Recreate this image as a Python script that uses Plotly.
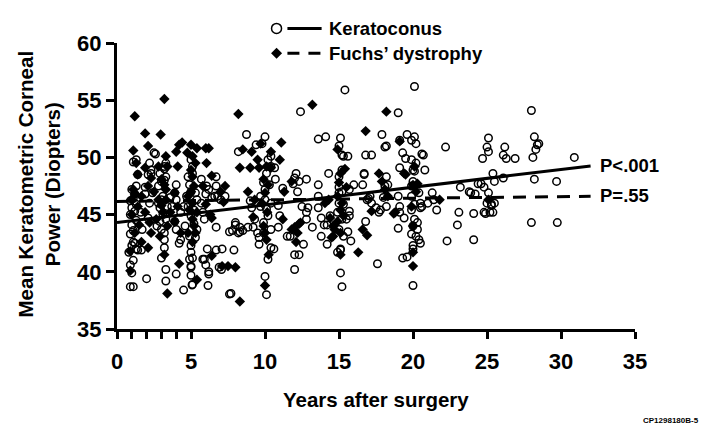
import plotly.graph_objects as go

# ---------------- data ----------------
kc_years = [
 0.9,1.1,1.0,0.9,1.1,0.8,1.3,1.0,1.2,0.9,1.1,1.0,1.3,0.9,1.2,1.0,1.3,0.9,1.1,1.2,1.0,1.3,1.4,1.1,1.3,1.4,1.65,1.1,
 2.0,1.9,2.3,2.6,2.2,1.7,2.1,1.6,1.9,2.4,2.2,2.1,2.3,2.5,
 3.0,3.3,3.3,3.2,3.2,3.3,2.9,2.8,3.0,3.2,3.3,2.9,3.4,3.1,2.8,2.7,3.2,3.2,3.3,3.2,3.0,3.1,2.9,3.0,
 4.0,4.3,4.0,3.9,4.0,3.9,4.0,3.7,4.5,4.3,3.6,4.2,
 4.9,5.1,5.0,5.1,5.3,4.8,5.0,4.6,4.9,5.3,5.0,5.1,5.0,5.1,4.5,5.4,5.4,5.07,5.0,5.0,4.9,5.0,4.7,5.2,5.0,4.8,5.2,
 6.2,6.15,6.1,5.9,5.8,5.7,6.0,6.2,6.4,6.05,5.7,5.9,6.2,6.0,5.8,
 6.7,6.7,6.6,6.8,7.0,7.3,6.7,7.1,6.9,6.7,7.06,7.6,7.6,
 7.7,7.9,7.8,8.0,8.2,8.3,8.2,8.5,8.0,8.3,
 8.75,8.85,9.2,9.3,9.5,9.4,9.1,9.0,
 10.0,9.8,9.6,9.6,10.0,10.1,10.2,10.4,10.4,10.2,10.4,9.9,10.0,10.1,10.2,9.9,10.4,9.7,9.7,10.1,10.4,9.9,10.0,10.3,
 10.65,10.7,10.6,10.9,10.9,11.0,11.2,11.5,
 11.7,12.0,12.3,12.0,12.1,12.3,12.2,12.4,12.5,11.9,12.0,
 12.6,12.8,12.8,12.9,13.2,12.8,13.6,
 13.6,14.1,13.6,13.6,13.8,13.8,14.2,14.0,14.2,14.3,14.4,
 15.1,15.0,15.2,15.0,15.2,15.0,14.9,15.2,15.0,15.3,15.1,15.1,15.2,15.4,15.3,15.3,15.0,14.9,15.1,15.2,15.0,
 15.7,15.7,15.8,15.6,15.7,16.0,15.5,15.6,
 16.6,16.8,17.2,16.7,16.8,16.9,17.1,17.2,17.0,16.7,
 17.6,17.9,17.7,17.5,18.2,18.2,18.0,18.1,18.3,18.2,17.8,18.1,
 19.0,19.1,19.3,19.0,19.1,19.0,19.1,19.4,19.5,19.1,19.3,
 20.1,19.6,19.9,20.1,20.2,19.9,20.2,20.1,20.0,19.9,19.9,20.1,19.9,20.1,20.0,19.9,20.0,19.6,20.0,20.3,20.4,20.3,20.5,20.4,20.0,20.2,20.0,
 20.6,20.7,20.8,20.5,21.0,21.4,21.3,20.5,20.6,
 21.6,22.2,22.3,
 23.1,23.0,23.2,24.1,23.8,24.1,24.2,23.9,
 24.7,24.8,24.6,25.1,25.0,25.1,24.8,25.2,25.1,25.0,24.4,25.3,24.9,
 25.4,25.5,25.5,25.4,26.2,26.1,26.3,26.1,26.9,25.3,
 28.0,28.2,28.4,28.3,28.5,28.1,28.2,28.0,29.7,29.75,30.9,
]
kc_power = [
 38.7,38.7,39.9,40.6,41.0,41.7,42.0,42.3,42.5,43.3,43.6,44.1,44.5,45.0,45.3,45.6,45.9,46.2,46.4,46.8,47.2,47.5,48.5,49.6,49.8,41.9,41.9,42.6,
 39.4,47.4,48.6,50.3,46.0,43.7,44.7,45.2,46.8,46.9,49.5,48.5,48.9,50.4,
 41.2,39.2,40.2,42.1,43.4,44.6,45.6,47.5,47.9,49.2,49.5,48.6,45.7,46.6,46.0,44.0,42.8,49.0,48.3,48.0,46.3,45.0,44.4,43.7,
 39.8,42.8,43.7,44.4,46.3,46.9,47.6,45.7,38.4,45.2,46.5,42.5,
 47.6,49.2,49.8,48.6,46.9,45.7,44.9,44.0,43.1,43.0,42.3,41.2,40.5,38.9,45.7,46.3,43.7,38.85,39.7,40.4,41.1,41.7,46.6,45.4,47.0,48.3,44.2,
 40.0,38.8,42.0,41.1,45.2,46.0,46.8,47.2,46.5,47.5,48.1,44.6,39.8,40.6,41.1,
 48.3,47.5,46.6,46.6,46.3,46.6,43.9,42.0,40.4,41.9,40.2,38.05,43.5,
 38.1,41.9,43.6,44.3,43.4,43.9,50.5,43.6,44.1,43.5,
 52.0,43.9,43.9,44.6,43.4,51.1,45.6,46.2,
 51.8,51.2,43.0,42.4,39.6,38.0,41.1,42.1,43.7,49.8,50.1,47.8,46.3,45.5,44.9,44.3,46.0,45.7,46.6,48.6,49.2,43.4,47.2,47.6,
 49.1,48.1,42.0,43.9,45.8,44.9,47.3,43.1,
 43.1,41.5,41.5,40.2,48.6,47.9,47.0,54.0,45.7,47.7,48.2,
 42.4,45.2,44.6,45.6,43.9,48.1,47.6,
 51.6,51.8,46.6,45.6,44.7,43.1,42.4,44.1,44.1,48.6,44.9,
 51.7,51.0,50.2,48.3,47.0,46.0,45.2,44.6,43.7,43.1,42.0,39.9,38.7,55.9,50.1,45.9,46.9,41.7,41.9,48.9,47.4,
 45.3,44.9,42.7,43.5,47.2,47.6,44.6,50.1,
 47.6,50.2,50.2,48.6,44.4,46.3,46.6,46.0,46.4,48.5,
 40.7,52.0,45.2,45.6,45.7,48.3,46.5,47.5,47.6,51.0,45.4,50.9,
 53.9,51.5,50.4,46.6,45.7,43.8,45.2,44.7,49.9,49.1,41.2,
 56.2,52.0,51.5,51.8,51.2,49.8,49.5,48.8,47.9,47.5,46.6,45.9,45.4,44.6,44.0,43.3,42.3,41.3,38.8,43.7,42.8,44.3,45.6,46.9,42.0,43.1,48.9,
 45.7,50.2,48.9,42.5,46.0,46.3,46.9,46.0,50.3,
 45.4,50.9,42.7,
 45.2,44.1,47.4,42.8,47.0,45.1,46.8,46.9,
 49.9,47.4,47.7,51.7,50.9,50.5,45.2,45.2,46.9,46.0,47.7,45.9,45.1,
 48.6,47.9,46.0,45.2,50.9,50.2,49.9,48.2,49.9,45.8,
 54.1,51.8,51.1,50.7,51.2,50.0,48.1,44.3,47.9,44.3,50.0,
]

fd_years = [
 1.2,1.1,1.1,1.0,1.2,0.9,0.9,1.4,1.3,1.4,1.5,1.0,1.2,
 1.9,2.1,1.9,2.3,2.1,1.65,1.9,2.2,2.3,2.1,1.65,2.5,
 3.2,2.95,2.8,3.0,3.3,3.3,3.1,3.4,2.9,3.2,3.4,2.65,2.8,3.4,3.3,3.0,3.2,
 4.0,4.2,4.4,4.1,3.9,4.1,4.3,4.2,3.9,3.6,
 4.75,5.0,5.4,5.1,5.3,5.1,5.2,4.8,5.1,5.4,5.1,5.3,5.1,5.4,4.8,5.0,4.9,5.2,5.0,
 6.0,6.2,6.05,5.8,6.4,6.0,6.3,6.4,6.4,
 7.3,7.1,7.5,7.0,7.2,
 8.0,8.3,8.2,8.3,8.5,
 9.0,9.1,8.85,9.2,9.3,
 9.7,9.9,10.1,10.0,9.8,10.15,9.9,10.1,10.25,10.0,10.4,10.4,9.6,9.5,10.2,10.0,
 11.0,11.1,11.3,11.2,
 11.8,12.0,12.2,12.1,12.4,11.8,12.3,
 13.2,
 14.4,14.05,14.3,14.6,14.5,
 14.9,15.1,15.0,14.9,15.2,14.9,15.1,14.7,15.1,14.6,15.3,15.4,15.5,15.1,
 16.3,
 16.8,16.6,16.9,17.2,
 18.2,17.7,17.9,18.3,18.7,18.1,
 18.8,19.4,19.1,
 19.5,20.1,20.0,20.2,20.0,20.0,20.0,19.9,20.3,
 21.8,25.1,
]
fd_power = [
 53.6,50.6,47.2,46.3,43.4,41.8,40.1,48.5,49.5,45.7,44.1,45.0,46.8,
 52.1,51.0,49.1,48.2,47.5,46.6,45.2,44.3,43.4,42.1,42.6,47.0,
 55.1,52.0,49.2,48.1,47.2,46.3,45.2,44.0,43.1,41.5,38.1,44.6,46.3,49.2,50.1,45.8,47.6,
 50.5,51.1,51.3,49.2,46.9,45.7,43.4,40.7,44.4,45.2,
 50.4,51.1,50.8,50.1,49.5,48.3,47.5,46.6,46.0,45.2,44.6,43.4,42.6,39.3,43.4,47.0,45.4,44.0,48.9,
 50.8,50.8,49.5,47.5,48.4,45.9,45.0,44.7,41.4,
 47.5,40.5,40.5,47.0,46.1,
 40.4,37.4,53.8,49.1,50.7,
 49.1,50.5,47.0,44.8,46.3,
 51.2,48.1,49.2,46.9,46.0,45.2,44.0,42.8,41.5,38.8,49.1,50.5,49.1,49.8,47.6,43.4,
 49.8,51.3,47.0,44.6,
 47.9,43.9,43.4,42.6,44.3,43.7,44.2,
 54.6,
 44.7,46.0,46.3,44.0,43.0,
 50.7,48.6,47.8,46.6,46.0,44.4,43.4,43.7,41.5,43.1,44.9,49.0,47.4,45.4,
 41.7,
 52.3,43.7,43.2,45.3,
 54.0,48.6,47.9,46.6,45.1,47.2,
 45.2,48.6,51.4,
 48.5,49.2,47.6,47.0,44.0,40.5,41.7,45.7,47.7,
 46.3,46.3,
]

# regression lines (end points)
fit_years = [0, 32]
kc_fit = [44.3, 49.25]
fd_fit = [46.15, 46.6]

x_tickvals = [0, 1, 2, 3, 4, 5, 10, 15, 20, 25, 30, 35]
x_ticktext = ["0", "", "", "", "", "5", "10", "15", "20", "25", "30", "35"]
y_tickvals = [35, 40, 45, 50, 55, 60]

FONT = "Liberation Sans, Arial, Helvetica, sans-serif"

fig = go.Figure()
fig.add_trace(go.Scatter(
    x=kc_years, y=kc_power, mode="markers", name="Keratoconus",
    marker=dict(symbol="circle-open", size=7.5, color="black", line=dict(width=1.5, color="black")),
    showlegend=False, cliponaxis=False))
fig.add_trace(go.Scatter(
    x=fd_years, y=fd_power, mode="markers", name="Fuchs' dystrophy",
    marker=dict(symbol="diamond", size=8, color="black", line=dict(width=0)),
    showlegend=False, cliponaxis=False))
fig.add_trace(go.Scatter(
    x=fit_years, y=kc_fit, mode="lines", line=dict(color="black", width=3),
    showlegend=False, hoverinfo="skip"))
fig.add_trace(go.Scatter(
    x=fit_years, y=fd_fit, mode="lines", line=dict(color="black", width=3, dash="13px,9px"),
    showlegend=False, hoverinfo="skip"))

# custom legend (paper coordinates)
lx_marker = 0.308
lx_line0, lx_line1 = 0.329, 0.395
lx_text = 0.405
ly1, ly2 = 1.051, 0.964
shapes = [
    dict(type="circle", xref="paper", yref="paper", xsizemode="pixel", ysizemode="pixel",
         xanchor=lx_marker, yanchor=ly1, x0=-5, x1=5, y0=-5, y1=5,
         line=dict(color="black", width=1.5), fillcolor="white"),
    dict(type="path", xref="paper", yref="paper", xsizemode="pixel", ysizemode="pixel",
         xanchor=lx_marker, yanchor=ly2, path="M 0 5.5 L 5.5 0 L 0 -5.5 L -5.5 0 Z",
         line=dict(color="black", width=0), fillcolor="black"),
    dict(type="line", xref="paper", yref="paper", x0=lx_line0, x1=lx_line1, y0=ly1, y1=ly1,
         line=dict(color="black", width=3)),
    dict(type="line", xref="paper", yref="paper", x0=lx_line0, x1=lx_line1, y0=ly2, y1=ly2,
         line=dict(color="black", width=3, dash="12px,9px")),
]

bold = dict(family=FONT, color="black", weight="bold")
annotations = [
    dict(text="Keratoconus", xref="paper", yref="paper", x=lx_text, y=ly1, xanchor="left",
         yanchor="middle", showarrow=False, font=dict(size=18.5, **bold)),
    dict(text="Fuchs’ dystrophy", xref="paper", yref="paper", x=lx_text, y=ly2, xanchor="left",
         yanchor="middle", showarrow=False, font=dict(size=18.5, **bold)),
    dict(text="P<.001", x=32.5, y=49.33, xref="x", yref="y", xanchor="left", yanchor="middle",
         showarrow=False, font=dict(size=18.5, **bold)),
    dict(text="P=.55", x=32.5, y=46.71, xref="x", yref="y", xanchor="left", yanchor="middle",
         showarrow=False, font=dict(size=18.5, **bold)),
    dict(text="Years after surgery", xref="paper", yref="paper", x=0.5, y=-0.248,
         xanchor="center", yanchor="middle", showarrow=False, font=dict(size=20.5, **bold)),
    dict(text="Mean Keratometric Corneal<br>Power (Diopters)", xref="paper", yref="paper",
         x=-0.151, y=0.508, xanchor="center", yanchor="middle", textangle=-90,
         showarrow=False, font=dict(size=20.5, **bold)),
    dict(text="CP1298180B-5", xref="paper", yref="paper", x=1.127, y=-0.321,
         xanchor="right", yanchor="middle", showarrow=False, font=dict(size=8, **bold)),
]

fig.update_layout(
    width=719, height=434,
    margin=dict(l=117, r=84, t=43, b=105, pad=0),
    paper_bgcolor="white", plot_bgcolor="white",
    font=dict(family=FONT, color="black"),
    shapes=shapes, annotations=annotations,
    xaxis=dict(range=[0, 35], tickvals=x_tickvals, ticktext=x_ticktext,
               showline=True, linecolor="black", linewidth=3, ticks="outside",
               ticklen=7, tickwidth=3, tickcolor="black", showgrid=False, zeroline=False,
               ticklabelstandoff=4, tickfont=dict(size=22, **bold)),
    yaxis=dict(range=[35, 60], tickvals=y_tickvals,
               showline=True, linecolor="black", linewidth=3, ticks="outside",
               ticklen=8, tickwidth=3, tickcolor="black", showgrid=False, zeroline=False,
               tickfont=dict(size=22, **bold)),
)

fig.write_html("out.html", config={"displayModeBar": False},
               post_script="document.body.style.margin='0px';document.body.style.overflow='hidden';")
